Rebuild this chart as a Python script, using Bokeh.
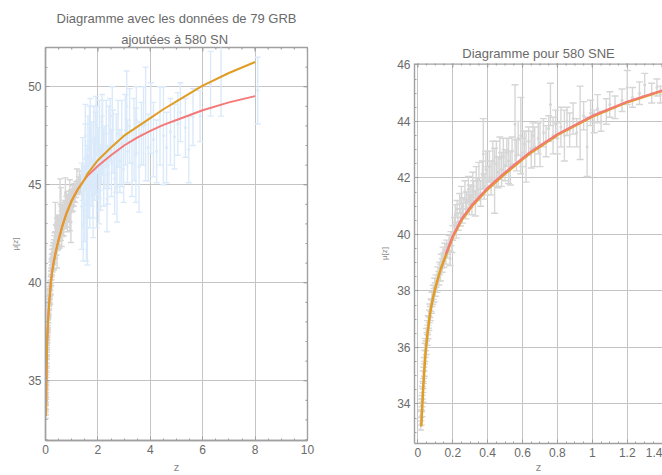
import math
from bokeh.plotting import figure
from bokeh.models import (ColumnDataSource, Range1d, FixedTicker, Title, Span)
from bokeh.layouts import row
from bokeh.embed import file_html
from bokeh.resources import INLINE

# ---------------- data ----------------
# model curves (pink = reference model, orange = alternative model)
curve_z = [0.02, 0.025, 0.03, 0.037, 0.045, 0.055, 0.07, 0.085, 0.1, 0.13, 0.16, 0.2, 0.25,
           0.31, 0.4, 0.5, 0.64, 0.8, 1.0, 1.2, 1.4, 1.6, 2.0, 2.5, 3.0, 3.5, 4.0, 4.5, 5.0,
           6.0, 7.0, 8.0]
mu_pink = [33.2, 33.9, 34.5, 35.2, 35.9, 36.5, 37.25, 37.75, 38.15, 38.8, 39.3, 39.95, 40.55,
           41.05, 41.65, 42.2, 42.9, 43.55, 44.2, 44.7, 45.1, 45.45, 45.95, 46.5, 47.0, 47.4,
           47.75, 48.05, 48.3, 48.8, 49.2, 49.52]
mu_orange = [33.2, 33.88, 34.47, 35.17, 35.86, 36.46, 37.2, 37.7, 38.1, 38.75, 39.25, 39.9,
             40.5, 41.0, 41.6, 42.15, 42.86, 43.52, 44.17, 44.68, 45.08, 45.55, 46.25, 46.9,
             47.5, 47.95, 48.4, 48.85, 49.25, 50.05, 50.7, 51.26]
pink_start_right = 0.16   # in the SN-only panel the pink curve starts here

# supernovae (SN)
sn_z = [0.016, 0.018, 0.020, 0.022, 0.024, 0.025, 0.027, 0.029, 0.030, 0.032, 0.034, 0.036,
        0.038, 0.040, 0.042, 0.045, 0.048, 0.050, 0.053, 0.056, 0.058, 0.060, 0.063, 0.066,
        0.069, 0.072, 0.075, 0.078, 0.081, 0.085, 0.089, 0.093, 0.097, 0.100,
        0.105, 0.11, 0.115, 0.12, 0.125, 0.13, 0.135, 0.14, 0.145, 0.15, 0.155, 0.16, 0.165,
        0.17, 0.185, 0.18, 0.19, 0.195, 0.20,
        0.21, 0.215, 0.22, 0.225, 0.23, 0.24, 0.245, 0.25, 0.255, 0.26, 0.27, 0.275, 0.28,
        0.29, 0.295, 0.30, 0.31, 0.315, 0.32, 0.33, 0.335, 0.34, 0.35, 0.36, 0.37, 0.375,
        0.38, 0.39, 0.40, 0.41, 0.42, 0.43, 0.44, 0.45, 0.46, 0.47, 0.48, 0.49, 0.50, 0.51,
        0.52, 0.53, 0.54, 0.557, 0.565, 0.575, 0.59, 0.60, 0.61, 0.62, 0.635, 0.65, 0.66,
        0.67, 0.69, 0.70, 0.72, 0.735, 0.75, 0.76, 0.775, 0.79, 0.80, 0.82, 0.84, 0.855,
        0.87, 0.89, 0.91, 0.93, 0.95, 0.97, 0.99, 1.01, 1.03, 1.05, 1.08, 1.10, 1.13, 1.17,
        1.20, 1.23, 1.27, 1.30, 1.34, 1.37, 1.39]
sn_mu = [33.3, 33.6, 33.5, 33.95, 34.1, 33.8, 34.4, 34.6, 34.3, 34.95, 35.1, 35.4,
         35.2, 35.7, 35.9, 36.1, 36.0, 36.45, 36.3, 36.7, 36.55, 36.9, 36.85, 37.1,
         37.3, 37.2, 37.5, 37.45, 37.7, 37.75, 37.95, 37.85, 38.2, 38.05,
         38.35, 38.2, 38.6, 38.45, 38.8, 38.65, 39.05, 38.9, 39.3, 39.1, 39.45, 39.2, 39.55,
         39.4, 39.15, 39.7, 39.85, 39.6, 40.05,
         40.3, 40.7, 40.15, 40.9, 40.45, 41.1, 40.6, 41.3, 40.75, 41.0, 41.5, 40.9, 41.2,
         41.6, 41.05, 41.35, 41.2, 41.75, 41.5, 41.1, 41.9, 41.6, 41.95, 41.45, 42.1, 42.85,
         41.7, 42.3, 41.9, 42.4, 42.0, 42.6, 41.9, 42.5, 42.2, 42.7, 42.3, 42.75, 42.45, 42.9,
         42.6, 42.35, 42.95, 43.9, 42.8, 43.4, 43.5, 42.9, 43.2, 42.75, 43.3, 43.0, 43.5,
         43.1, 43.4, 43.2, 43.6, 43.3, 43.75, 44.6, 43.5, 43.9, 43.4, 43.8, 43.5, 44.0,
         43.7, 44.1, 43.6, 43.95, 44.2, 43.1, 44.3, 44.0, 44.45, 44.0, 44.35, 44.6, 44.5, 44.75,
         45.2, 44.85, 45.0, 45.3, 45.0, 45.2, 44.95]
sn_err = [0.22, 0.20, 0.25, 0.22, 0.20, 0.25, 0.22, 0.20, 0.24, 0.22, 0.20, 0.24,
          0.22, 0.20, 0.25, 0.22, 0.25, 0.22, 0.22, 0.25, 0.24, 0.22, 0.25, 0.22,
          0.24, 0.25, 0.22, 0.24, 0.25, 0.22, 0.25, 0.24, 0.25, 0.24,
          0.22, 0.25, 0.25, 0.24, 0.22, 0.30, 0.25, 0.24, 0.25, 0.26, 0.24, 0.25, 0.25,
          0.24, 0.25, 0.26, 0.25, 0.24, 0.26,
          0.30, 0.35, 0.28, 0.30, 0.30, 0.35, 0.30, 0.40, 0.35, 0.30, 0.40, 0.35, 0.30,
          0.45, 0.35, 0.40, 0.50, 0.45, 0.40, 0.45, 0.50, 0.40, 0.60, 0.45, 0.50, 1.25,
          0.45, 0.65, 0.50, 0.55, 0.60, 0.70, 1.15, 0.80, 0.55, 0.75, 0.60, 0.65, 0.55, 0.50,
          0.80, 0.60, 0.50, 1.40, 0.55, 0.60, 1.35, 0.50, 0.45, 0.90, 0.50, 0.65, 0.45,
          0.70, 0.55, 0.80, 0.50, 0.55, 0.45, 0.75, 0.65, 0.50, 0.55, 0.70, 0.90, 0.50,
          0.60, 0.55, 0.50, 1.30, 0.50, 1.05, 0.45, 0.40, 0.50, 0.35, 0.45, 0.45, 0.40, 0.40,
          0.60, 0.35, 0.40, 0.40, 0.35, 0.30, 0.30]

# gamma-ray bursts (GRB)
grb_z = [1.38, 1.42, 1.46, 1.50, 1.53, 1.56, 1.59, 1.62, 1.65, 1.68, 1.71, 1.74, 1.77, 1.80,
         1.84, 1.87, 1.91, 1.95, 1.98, 2.02, 2.06, 2.10, 2.14, 2.18, 2.22, 2.27, 2.32, 2.37,
         2.42, 2.47, 2.52, 2.58, 2.64, 2.70, 2.77, 2.84, 2.91, 2.98, 3.05, 3.13, 3.21, 3.30,
         3.38, 3.47, 3.57, 3.66, 3.74, 3.82, 3.92, 4.02, 4.12, 4.24, 4.37, 4.50, 4.62, 4.77,
         4.92, 5.05, 5.15, 5.34, 5.47, 5.63, 5.90, 6.30, 6.70, 8.10,
         1.44, 1.52, 1.60, 1.69, 1.82, 1.93, 2.04, 2.16, 2.35, 2.55, 2.73, 3.10, 3.45]
grb_mu = [43.9, 45.8, 44.5, 44.0, 46.4, 43.7, 45.2, 46.8, 44.9, 46.9, 47.1, 45.6, 46.3, 44.8,
          47.2, 45.8, 46.6, 44.5, 47.3, 46.1, 47.0, 45.3, 46.8, 47.4, 45.9, 46.4, 47.6, 45.5,
          46.9, 47.8, 46.1, 47.2, 45.3, 46.6, 47.6, 46.2, 47.1, 45.8, 47.8, 46.7, 48.0, 46.1,
          47.3, 48.3, 45.9, 47.6, 48.0, 48.1, 46.9, 48.4, 47.3, 46.7, 48.0, 47.5, 46.9, 47.7,
          47.45, 48.1, 48.7, 47.9, 46.8, 48.45, 48.5, 50.15, 50.5, 49.8,
          42.9, 47.5, 42.8, 45.0, 43.9, 48.0, 44.6, 48.2, 44.3, 48.5, 44.9, 49.0, 46.5]
grb_err = [2.2, 1.6, 1.5, 1.9, 1.7, 2.6, 1.8, 1.7, 1.6, 2.1, 2.3, 1.7, 1.9, 1.5,
           1.8, 1.6, 2.1, 1.7, 1.7, 1.8, 2.3, 1.6, 1.7, 1.9, 2.0, 1.6, 1.7, 1.5,
           2.1, 1.6, 1.7, 1.6, 1.8, 2.0, 1.7, 1.6, 2.2, 1.7, 1.8, 1.6, 1.9, 1.7,
           2.1, 1.7, 2.3, 1.6, 2.0, 2.9, 1.7, 1.8, 1.9, 1.6, 2.0, 2.5, 1.8, 1.7,
           1.65, 1.6, 1.5, 1.5, 1.7, 1.45, 1.3, 1.65, 2.0, 1.7,
           1.8, 1.6, 1.9, 2.2, 1.6, 1.5, 1.6, 1.4, 1.7, 1.5, 1.8, 1.8, 2.4]

left_xticks = [0, 2, 4, 6, 8, 10]
left_yticks = [35, 40, 45, 50]
right_xticks = [0.0, 0.2, 0.4, 0.6, 0.8, 1.0, 1.2, 1.4]
right_yticks = [34, 36, 38, 40, 42, 44, 46]

title_left_1 = "Diagramme avec les données de 79 GRB"
title_left_2 = "ajoutées à  580 SN"
title_right = "Diagramme pour 580 SNE"

# ---------------- styles ----------------
FONT = "Liberation Sans"
TXT = "#6a6a6a"
AXC = "#a0a0a0"
GRID = "#c4c4c4"
SN_C = "#d6d6d6"
GRB_C = "#dbeafa"
ORANGE = "#e19c24"
PINK = "#f47a7a"


def src(z, mu, err):
    return ColumnDataSource(dict(z=z, mu=mu,
                                 lo=[m - e for m, e in zip(mu, err)],
                                 hi=[m + e for m, e in zip(mu, err)]))


def errbars(p, s, color, cap):
    p.segment(x0="z", y0="lo", x1="z", y1="hi", source=s, line_color=color, line_width=1.4)
    p.scatter("z", "lo", source=s, marker="dash", size=cap, line_color=color, line_width=1.4)
    p.scatter("z", "hi", source=s, marker="dash", size=cap, line_color=color, line_width=1.4)
    p.scatter("z", "mu", source=s, marker="circle", size=3, fill_color=color, line_color=None)


def minor(lo, hi, step):
    out = []
    v = lo
    while v <= hi + 1e-9:
        out.append(round(v, 4))
        v += step
    return out


def style_axis(ax, ticks, mticks):
    ax.ticker = FixedTicker(ticks=ticks, minor_ticks=mticks)
    ax.axis_line_color = AXC
    ax.axis_line_width = 1.4
    ax.major_tick_line_color = AXC
    ax.minor_tick_line_color = AXC
    ax.major_tick_in = 4
    ax.major_tick_out = 0
    ax.minor_tick_in = 2
    ax.minor_tick_out = 0
    ax.major_label_text_font = FONT
    ax.major_label_text_color = TXT
    ax.major_label_text_font_size = "12px"
    ax.major_label_standoff = 4
    ax.axis_label_text_font = FONT
    ax.axis_label_text_font_style = "normal"
    ax.axis_label_text_color = "#8a8a8a"


def frame_ticks(p, xs, y, vertical, size):
    # inward tick marks on the top / right frame edges (half of each dash is clipped)
    if vertical:
        p.scatter(xs, [y] * len(xs), marker="dash", angle=math.pi / 2, size=size,
                  line_color=AXC, line_width=1.2)
    else:
        p.scatter([y] * len(xs), xs, marker="dash", size=size, line_color=AXC, line_width=1.2)


def style_title(t, text, standoff):
    t.text = text
    t.align = "center"
    t.text_font = FONT
    t.text_font_size = "13px"
    t.text_font_style = "normal"
    t.text_color = TXT
    t.standoff = standoff
    return t


def style_grid(p, xt, yt):
    p.xgrid.ticker = FixedTicker(ticks=xt)
    p.ygrid.ticker = FixedTicker(ticks=yt)
    for g in (p.xgrid[0], p.ygrid[0]):
        g.grid_line_color = GRID
        g.grid_line_width = 1


# ---------------- left panel ----------------
LX0, LX1, LY0, LY1 = 0, 10, 31.95, 52.0
pl = figure(width=350, height=475, output_backend="svg", toolbar_location=None,
            x_range=Range1d(LX0, LX1), y_range=Range1d(LY0, LY1),
            min_border_left=45, min_border_right=43, min_border_top=47, min_border_bottom=35,
            x_axis_label="z", y_axis_label="μ[z]")
pl.frame_align = False
pl.outline_line_color = AXC
pl.outline_line_width = 1.4

lx_minor = minor(0, 10, 0.5)
ly_minor = minor(32, 52, 1)
style_axis(pl.xaxis[0], left_xticks, lx_minor)
style_axis(pl.yaxis[0], left_yticks, ly_minor)
pl.xaxis[0].axis_label_standoff = 4
pl.yaxis[0].axis_label_standoff = 5
pl.yaxis[0].axis_label_text_font_size = "8px"
pl.xaxis[0].axis_label_text_font_size = "11px"
style_grid(pl, left_xticks, left_yticks)

style_title(pl.title, title_left_1, 5)
pl.add_layout(style_title(Title(), title_left_2, 2), "above")

errbars(pl, src(sn_z, sn_mu, sn_err), SN_C, 6)
errbars(pl, src(grb_z, grb_mu, grb_err), GRB_C, 6)
pl.line(curve_z, mu_pink, line_color=PINK, line_width=2)
pl.line(curve_z, mu_orange, line_color=ORANGE, line_width=2)

frame_ticks(pl, left_xticks, LY1, True, 8)
frame_ticks(pl, lx_minor, LY1, True, 4)
frame_ticks(pl, left_yticks, LX1, False, 8)
frame_ticks(pl, ly_minor, LX1, False, 4)

# ---------------- right panel ----------------
RX0, RX1, RY0, RY1 = -0.019, 1.402, 32.6, 46.05
pr = figure(width=312, height=475, output_backend="svg", toolbar_location=None,
            x_range=Range1d(RX0, RX1), y_range=Range1d(RY0, RY1),
            min_border_left=64, min_border_right=0, min_border_top=63, min_border_bottom=32,
            x_axis_label="z", y_axis_label="μ[z]")
pr.frame_align = False
pr.outline_line_color = None

rx_minor = minor(0, 1.4, 0.05)
ry_minor = minor(32.5, 46, 0.5)
style_axis(pr.xaxis[0], right_xticks, rx_minor)
style_axis(pr.yaxis[0], right_yticks, ry_minor)
pr.xaxis[0].axis_label_standoff = 1
pr.yaxis[0].axis_label_standoff = 5
pr.yaxis[0].axis_label_text_font_size = "8px"
pr.xaxis[0].axis_label_text_font_size = "11px"
style_grid(pr, right_xticks, right_yticks)

style_title(pr.title, title_right, 6)
pr.add_layout(Span(location=RY1, dimension="width", line_color=AXC, line_width=1.4))

errbars(pr, src(sn_z, sn_mu, sn_err), SN_C, 7)
pr.line(curve_z, mu_orange, line_color=ORANGE, line_width=2.5)
k0 = curve_z.index(pink_start_right)
pr.line(curve_z[k0:], mu_pink[k0:], line_color=PINK, line_width=2)

frame_ticks(pr, right_xticks, RY1, True, 8)
frame_ticks(pr, rx_minor, RY1, True, 4)

layout = row(pl, pr)
open("out.html", "w").write(file_html(layout, INLINE))
